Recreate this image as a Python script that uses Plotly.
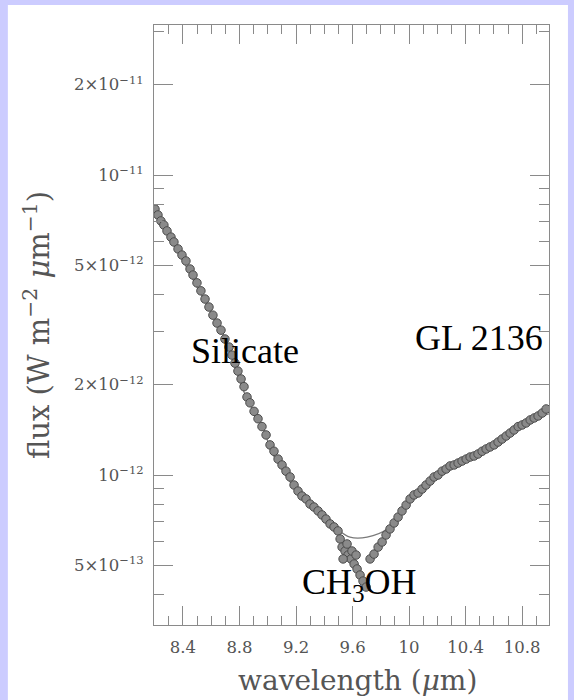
import numpy as np
import plotly.graph_objects as go

# Observed spectrum of GL 2136 (wavelength in micron, flux in 1e-12 W m^-2 um^-1)
obs_wavelength = [
    8.202, 8.223, 8.244, 8.265, 8.287, 8.315, 8.336, 8.365, 8.393, 8.421,
    8.450, 8.471, 8.499, 8.527, 8.556, 8.584, 8.612, 8.641, 8.669, 8.697,
    8.726, 8.747, 8.768, 8.789, 8.811, 8.832, 8.853, 8.874, 8.903, 8.931,
    8.959, 8.988, 9.016, 9.044, 9.073, 9.101, 9.129, 9.158, 9.186, 9.214,
    9.242, 9.271, 9.299, 9.327, 9.356, 9.384, 9.412, 9.441, 9.469, 9.497,
    9.512, 9.526, 9.547, 9.568, 9.589, 9.611, 9.632, 9.653, 9.674, 9.696,
    9.533, 9.561, 9.596, 9.625,
    9.724, 9.752, 9.781, 9.809, 9.837, 9.865, 9.894, 9.922, 9.950, 9.979,
    10.007, 10.035, 10.064, 10.092, 10.120, 10.149, 10.177, 10.205, 10.234, 10.262,
    10.290, 10.319, 10.347, 10.375, 10.404, 10.432, 10.460, 10.488, 10.517, 10.545,
    10.573, 10.602, 10.630, 10.658, 10.687, 10.715, 10.743, 10.772, 10.800, 10.828,
    10.857, 10.885, 10.913, 10.942, 10.970,
]
obs_flux_e12 = [
    7.70, 7.36, 7.03, 6.81, 6.51, 6.21, 5.98, 5.67, 5.41, 5.17,
    4.86, 4.64, 4.37, 4.11, 3.86, 3.63, 3.41, 3.21, 3.04, 2.84,
    2.67, 2.51, 2.36, 2.22, 2.09, 1.97, 1.82, 1.74, 1.63, 1.54,
    1.45, 1.36, 1.26, 1.20, 1.13, 1.08, 1.03, 0.985, 0.926, 0.884,
    0.851, 0.832, 0.800, 0.782, 0.759, 0.736, 0.713, 0.687, 0.671, 0.651,
    0.612, 0.575, 0.558, 0.541, 0.525, 0.505, 0.486, 0.464, 0.443, 0.423,
    0.525, 0.589, 0.558, 0.541,
    0.525, 0.545, 0.575, 0.598, 0.631, 0.661, 0.692, 0.724, 0.759, 0.794,
    0.832, 0.858, 0.871, 0.898, 0.926, 0.955, 0.985, 1.000, 1.030, 1.047,
    1.072, 1.080, 1.096, 1.113, 1.130, 1.148, 1.157, 1.175, 1.200, 1.221,
    1.240, 1.260, 1.288, 1.318, 1.349, 1.380, 1.413, 1.450, 1.468, 1.491,
    1.526, 1.549, 1.573, 1.609, 1.660,
]

# Silicate model curve
model_wavelength = [
    8.188, 8.237, 8.308, 8.393, 8.450, 8.499, 8.556, 8.612, 8.676, 8.719,
    8.853, 8.924, 8.981, 9.016, 9.087, 9.179, 9.278, 9.391, 9.490, 9.582,
    9.703, 9.844, 10.007, 10.170, 10.411, 10.644, 10.878, 10.990,
]
model_flux_e12 = [
    7.82, 7.03, 6.12, 5.25, 4.68, 4.23, 3.80, 3.39, 3.00, 2.69,
    1.79, 1.57, 1.39, 1.22, 1.07, 0.919, 0.813, 0.730, 0.661, 0.621,
    0.621, 0.661, 0.832, 0.970, 1.130, 1.320, 1.540, 1.600,
]

x_major = [8.4, 8.8, 9.2, 9.6, 10.0, 10.4, 10.8]
x_major_text = ["8.4", "8.8", "9.2", "9.6", "10", "10.4", "10.8"]
x_minor = [8.3, 8.5, 8.6, 8.7, 8.9, 9.0, 9.1, 9.3, 9.4, 9.5, 9.7, 9.8, 9.9,
           10.1, 10.2, 10.3, 10.5, 10.6, 10.7, 10.9]

y_major = [5e-13, 1e-12, 2e-12, 5e-12, 1e-11, 2e-11]
y_major_text = ["5×10<sup>−13</sup>", "10<sup>−12</sup>", "2×10<sup>−12</sup>",
                "5×10<sup>−12</sup>", "10<sup>−11</sup>", "2×10<sup>−11</sup>"]
y_minor = [4e-13, 6e-13, 7e-13, 8e-13, 9e-13, 3e-12, 4e-12, 6e-12, 7e-12,
           8e-12, 9e-12, 3e-11]

obs_flux = np.array(obs_flux_e12) * 1e-12
model_flux = np.array(model_flux_e12) * 1e-12

AX = "#8a8a8a"
TXT = "#555555"
SERIF = "DejaVu Serif"

fig = go.Figure()
fig.add_trace(go.Scatter(
    x=model_wavelength, y=model_flux, mode="lines", line_shape="spline",
    line=dict(color="#7a7a7a", width=1.3), hoverinfo="skip", showlegend=False,
))
fig.add_trace(go.Scatter(
    x=obs_wavelength, y=obs_flux, mode="markers",
    marker=dict(size=8.5, color="#8a8a8a", line=dict(color="#4c4c4c", width=1)),
    showlegend=False,
))

axis_common = dict(
    showline=True, linecolor=AX, linewidth=1, mirror="allticks",
    ticks="inside", tickcolor=AX, tickwidth=1, ticklen=19,
    showgrid=False, zeroline=False,
    tickfont=dict(family=SERIF, size=16.5, color=TXT),
)

fig.update_xaxes(
    range=[8.195, 10.99], tickmode="array", tickvals=x_major, ticktext=x_major_text,
    minor=dict(tickmode="array", tickvals=x_minor, ticks="inside", ticklen=9,
               tickcolor=AX, tickwidth=1, showgrid=False),
    ticklabelstandoff=7,
    **axis_common,
)
fig.update_yaxes(
    type="log", range=[-12.5, -10.5], tickmode="array", tickvals=y_major,
    ticktext=y_major_text,
    minor=dict(tickmode="array", tickvals=y_minor, ticks="inside", ticklen=10,
               tickcolor=AX, tickwidth=1, showgrid=False),
    ticklabelstandoff=6,
    **axis_common,
)

labels = [
    dict(x=8.84, y=np.log10(2.59e-12), text="Silicate"),
    dict(x=10.495, y=np.log10(2.86e-12), text="GL 2136"),
    dict(x=9.646, y=np.log10(4.33e-13), text="CH<sub>3</sub>OH"),
]
annotations = [
    dict(x=a["x"], y=a["y"], xref="x", yref="y", text=a["text"], showarrow=False,
         xanchor="center", yanchor="middle",
         font=dict(family="Liberation Serif", size=36, color="#000000"))
    for a in labels
]
annotations += [
    dict(x=0.514, y=-0.093, xref="paper", yref="paper", showarrow=False,
         xanchor="center", yanchor="middle",
         text="wavelength (<i>μ</i>m)", font=dict(family=SERIF, size=28, color=TXT)),
    dict(x=-0.296, y=0.5, xref="paper", yref="paper", showarrow=False, textangle=-90,
         xanchor="center", yanchor="middle",
         text="flux (W m<sup>−2</sup> <i>μ</i>m<sup>−1</sup>)",
         font=dict(family=SERIF, size=29, color=TXT)),
]

fig.update_layout(
    width=574, height=700,
    margin=dict(l=154, r=25, t=25, b=75),
    paper_bgcolor="#ccccff", plot_bgcolor="#ffffff",
    annotations=annotations,
    shapes=[dict(type="rect", xref="paper", yref="paper", x0=-0.370, x1=1.048,
                 y0=-0.13, y1=1.0333, fillcolor="#ffffff", line=dict(width=0),
                 layer="below")],
)

fig.write_html("out.html")
